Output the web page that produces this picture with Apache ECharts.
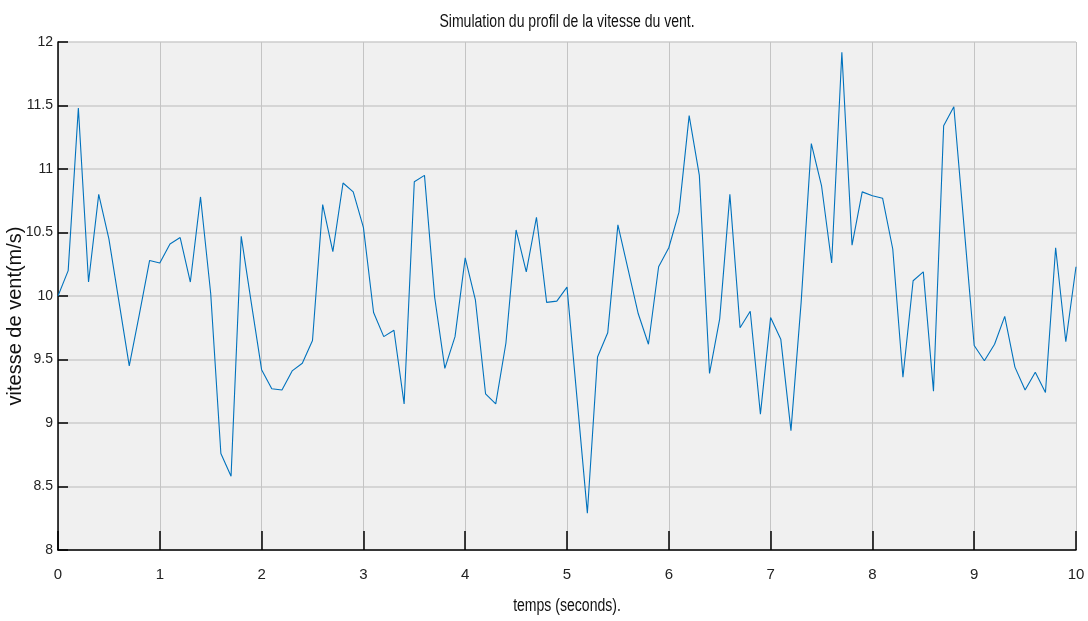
<!DOCTYPE html>
<html>
<head>
<meta charset="utf-8">
<title>Simulation du profil de la vitesse du vent</title>
<script src="https://cdn.jsdelivr.net/npm/echarts@6/dist/echarts.min.js"></script>
<style>
  html, body { margin: 0; padding: 0; background: #ffffff; }
  #chart { width: 1088px; height: 621px; }
</style>
</head>
<body>
<div id="chart"></div>
<script>
// Sampling period of the simulated wind profile (s)
const sampleStep = 0.1;

// Wind speed samples (m/s), one every 0.1 s from 0 to 10 s
const windSpeed = [
  10.00, 10.20, 11.48, 10.11, 10.80, 10.45, 9.95, 9.45, 9.86, 10.28,
  10.26, 10.41, 10.46, 10.11, 10.78, 10.02, 8.76, 8.58, 10.47, 9.94,
  9.42, 9.27, 9.26, 9.41, 9.47, 9.65, 10.72, 10.35, 10.89, 10.82,
  10.54, 9.87, 9.68, 9.73, 9.15, 10.90, 10.95, 9.99, 9.43, 9.68,
  10.30, 9.97, 9.23, 9.15, 9.63, 10.52, 10.19, 10.62, 9.95, 9.96,
  10.07, 9.18, 8.29, 9.52, 9.71, 10.56, 10.21, 9.86, 9.62, 10.23,
  10.38, 10.66, 11.42, 10.95, 9.39, 9.82, 10.80, 9.75, 9.88, 9.07,
  9.83, 9.66, 8.94, 9.95, 11.20, 10.87, 10.26, 11.92, 10.40, 10.82,
  10.79, 10.77, 10.37, 9.36, 10.12, 10.19, 9.25, 11.34, 11.49, 10.55,
  9.61, 9.49, 9.62, 9.84, 9.44, 9.26, 9.40, 9.24, 10.38, 9.64,
  10.23
];

// Axis tick values
const timeTicks = [0, 1, 2, 3, 4, 5, 6, 7, 8, 9, 10];
const speedTicks = [8, 8.5, 9, 9.5, 10, 10.5, 11, 11.5, 12];

const titleText = 'Simulation du profil de la vitesse du vent.';
const xName = 'temps (seconds).';
const yName = 'vitesse de vent(m/s)';

const points = windSpeed.map((v, i) => [Number((i * sampleStep).toFixed(1)), v]);

const sans = '"Liberation Sans", Arial, Helvetica, sans-serif';

// Plot box in pixels
const plotLeft = 58, plotRight = 12, plotTop = 42, plotBottom = 71;
const plotCenterX = plotLeft + (1088 - plotLeft - plotRight) / 2;

const chart = echarts.init(document.getElementById('chart'), null, { renderer: 'canvas' });

chart.setOption({
  animation: false,
  backgroundColor: '#ffffff',
  grid: {
    left: plotLeft, right: plotRight, top: plotTop, bottom: plotBottom,
    containLabel: false,
    outerBoundsMode: 'none',
    show: true, backgroundColor: '#f0f0f0', borderWidth: 0
  },
  // Condensed title and x-axis caption (horizontally narrowed text)
  graphic: [
    {
      type: 'text',
      x: plotCenterX, y: 22,
      scaleX: 0.78,
      silent: true,
      style: {
        text: titleText, font: '18px ' + sans, fill: '#111111',
        align: 'center', verticalAlign: 'middle'
      }
    },
    {
      type: 'text',
      x: plotCenterX, y: 606,
      scaleX: 0.78,
      silent: true,
      style: {
        text: xName, font: '18px ' + sans, fill: '#111111',
        align: 'center', verticalAlign: 'middle'
      }
    }
  ],
  xAxis: {
    type: 'value',
    min: timeTicks[0],
    max: timeTicks[timeTicks.length - 1],
    interval: timeTicks[1] - timeTicks[0],
    axisLine: { show: true, onZero: false, lineStyle: { color: '#000000', width: 1.5 } },
    axisTick: { show: true, inside: true, length: 19, lineStyle: { color: '#000000', width: 1.5 } },
    axisLabel: { margin: 17, fontFamily: sans, fontSize: 15, color: '#222222' },
    splitLine: { show: true, lineStyle: { color: '#c4c4c4', width: 1 } }
  },
  yAxis: {
    type: 'value',
    min: speedTicks[0],
    max: speedTicks[speedTicks.length - 1],
    interval: speedTicks[1] - speedTicks[0],
    name: yName,
    nameLocation: 'middle',
    nameGap: 33,
    nameMoveOverlap: false,
    nameTextStyle: {
      fontFamily: sans,
      fontSize: 20, color: '#111111',
      padding: [0, 40, 0, 0]
    },
    axisLine: { show: true, onZero: false, lineStyle: { color: '#000000', width: 1.5 } },
    axisTick: { show: true, inside: true, length: 10, lineStyle: { color: '#000000', width: 1.5 } },
    axisLabel: { margin: 5, fontFamily: sans, fontSize: 14, color: '#222222' },
    splitLine: { show: true, lineStyle: { color: '#cdcdcd', width: 1.5 } }
  },
  series: [{
    type: 'line',
    data: points,
    showSymbol: false,
    symbol: 'none',
    lineStyle: { color: '#0072BD', width: 1.1 },
    emphasis: { disabled: true }
  }]
});
</script>
</body>
</html>
